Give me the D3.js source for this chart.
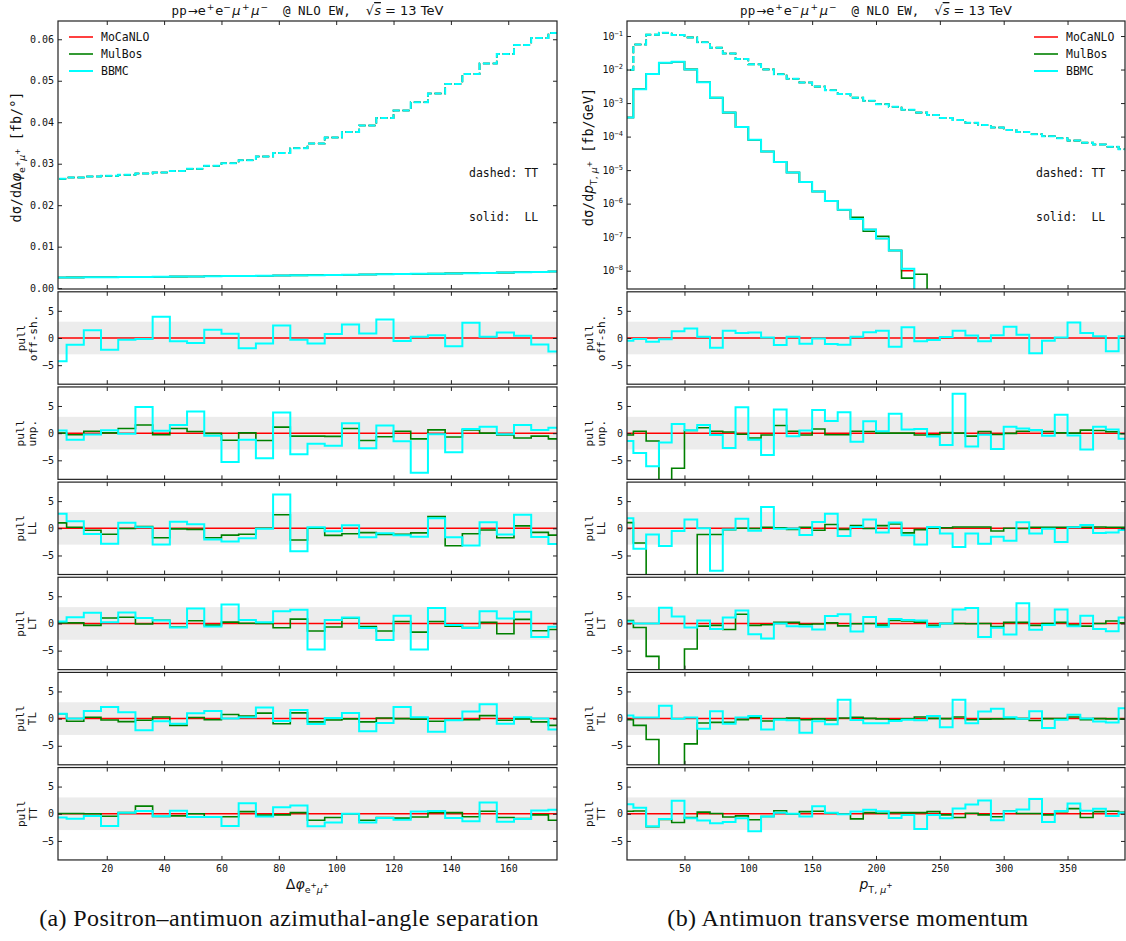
<!DOCTYPE html>
<html><head><meta charset="utf-8">
<script src="https://cdn.jsdelivr.net/npm/d3@7"></script>
<style>body{margin:0;background:#fff}</style>
</head><body>
<svg id="c" width="1126" height="941" xmlns="http://www.w3.org/2000/svg"></svg>
<script>
// ---------------- DATA ----------------
const generators = ["MoCaNLO","MulBos","BBMC"];
const phiEdges = [0,6,12,18,24,30,36,42,48,54,60,66,72,78,84,90,96,102,108,114,120,126,132,138,144,150,156,162,168,174,180];
const ptEdges = [0,10,20,30,40,50,60,70,80,90,100,110,120,130,140,150,160,170,180,190,200,210,220,230,240,250,260,270,280,290,300,310,320,330,340,350,360,370,380,390,400];
const phiTicks = [20,40,60,80,100,120,140,160];
const ptTicks = [50,100,150,200,250,300,350];
const phiMainTicks = [0,0.01,0.02,0.03,0.04,0.05,0.06];
const ptMainExps = [-1,-2,-3,-4,-5,-6,-7,-8];
const pullTicks = [-5,0,5];
const pullNames = ["off-sh.","unp.","LL","LT","TL","TT"];

// main panel, Delta phi (fb/deg)
const phiTT = [0.02635,0.02667,0.02691,0.02707,0.02731,0.02763,0.02787,0.02827,0.02876,0.02948,0.03012,0.03084,0.03173,0.03261,0.03373,0.03486,0.03631,0.03767,0.03920,0.04104,0.04281,0.04482,0.04691,0.04924,0.05165,0.05414,0.05647,0.05863,0.06032,0.06153];
const phiLL = [0.00258,0.00260,0.00262,0.00265,0.00268,0.00271,0.00275,0.00279,0.00283,0.00287,0.00291,0.00296,0.00300,0.00305,0.00309,0.00314,0.00319,0.00324,0.00329,0.00334,0.00339,0.00345,0.00350,0.00356,0.00362,0.00368,0.00375,0.00383,0.00392,0.00402];

// main panel, pT (fb/GeV)
const ptTT = [0.0098,0.056,0.11,0.125,0.107,0.091,0.065,0.045,0.030,0.0206,0.0143,0.0101,0.0073,0.0053,0.0041,0.0031,0.0024,0.00187,0.00145,0.00117,0.00093,0.00078,0.00063,0.00052,0.00044,0.00036,0.00031,0.00026,0.00022,0.000186,0.000158,0.000137,0.000117,0.000102,0.000089,0.000076,0.000066,0.000058,0.000050,0.000042];
const ptLL_MoCaNLO = [0.00037,0.0026,0.0074,0.0159,0.017,0.0101,0.0042,0.00145,0.00052,0.000194,0.000080,0.000036,0.0000175,0.0000085,0.0000044,0.0000023,0.0000012,6.6e-7,3.5e-7,1.7e-7,9.1e-8,4.0e-8,1.0e-8,0,0,0,0,0,0,0,0,0,0,0,0,0,0,0,0,0];
const ptLL_MulBos  = [0.00037,0.0026,0.0074,0.0159,0.017,0.0101,0.0042,0.00145,0.00052,0.000194,0.000080,0.000036,0.0000175,0.0000085,0.0000044,0.0000023,0.0000012,6.6e-7,3.9e-7,1.5e-7,1.06e-7,4.0e-8,6.0e-9,7.8e-9,0,0,0,0,0,0,0,0,0,0,0,0,0,0,0,0];
const ptLL_BBMC    = [0.00037,0.0026,0.0074,0.0159,0.017,0.0101,0.0042,0.00145,0.00052,0.000194,0.000080,0.000036,0.0000175,0.0000085,0.0000044,0.0000023,0.0000012,6.6e-7,3.5e-7,1.7e-7,9.1e-8,4.0e-8,1.15e-8,0,0,0,0,0,0,0,0,0,0,0,0,0,0,0,0,0];

// pulls, Delta phi
const pPhiOff_BBMC = [-4.26,-1.23,1.42,-2.16,-0.3,-0.2,3.9,-0.6,-0.9,1.5,0.8,-1.9,-1.0,2.3,-0.3,-1.0,0.75,2.5,0.85,3.4,-0.55,0.25,0.5,-1.5,2.8,0.25,1.0,0.4,-1.2,-2.5];
const pPhiUnp_MulBos = [0,-0.3,0.35,0.05,0.85,1.5,-0.3,0.85,0.3,-0.05,-1.3,0.05,-1.35,1.1,-0.55,-0.55,-0.6,0.85,-1.35,-0.65,0.35,-1.05,0.6,-0.7,0.6,0,-0.35,-0.9,-0.55,-1.05];
const pPhiUnp_BBMC = [0.5,-1.2,-0.25,0.55,-0.1,4.8,0.45,1.5,4.0,-0.5,-5.3,-1.2,-4.6,3.8,-3.9,-1.95,-2.3,1.8,-2.8,1.4,-1.5,-7.3,-0.2,-3.5,0.75,1.2,-0.2,1.5,0.6,1.0];
const pPhiLL_MulBos = [1.0,0.2,-0.35,-1.1,-0.05,0.3,-1.75,-0.1,-0.2,-1.75,-1.25,-1.1,0,2.5,-2.15,0,-1.3,-1.0,-0.8,-1.15,-1.1,-0.85,2.15,-3.2,-1.0,-0.3,-1.75,0.45,-0.75,-1.25];
const pPhiLL_BBMC = [2.7,1.3,-1.05,-2.85,1.0,0.2,-3.0,1.2,0.75,-2.05,-2.45,-1.85,-0.1,6.2,-4.2,0.2,-0.55,0.55,-1.65,-0.9,-1.3,-1.55,1.85,-1.65,-3.15,1.1,-1.15,2.5,-1.6,-2.9];
const pPhiLT_MulBos = [0.1,0.1,-0.35,1.0,1.15,-0.1,0.6,-0.65,0.5,-0.3,0.25,0.05,0,-0.8,0.8,-1.4,-0.65,1.0,-0.55,-1.4,0.35,-1.6,0.35,-0.5,-0.75,0.2,-1.9,0.75,-1.35,-1.1];
const pPhiLT_BBMC = [0.35,1.15,1.95,0.2,2.0,1.0,0.55,-0.75,2.75,-0.55,3.5,0.65,0.2,2.25,2.5,-4.8,0.65,1.1,-0.85,-3.05,1.4,-4.8,2.85,-0.3,-0.85,2.25,0.9,2.15,-2.5,-0.6];
const pPhiTL_MulBos = [0.9,-0.5,0.25,-0.25,-0.55,-0.3,0.3,-1.25,0.2,-0.2,0.75,0.45,1.0,-0.95,1.05,-0.6,-0.25,-0.05,-0.6,0.1,0,-0.1,-0.5,-0.3,-0.2,0.55,-0.3,-0.05,-0.6,-1.25];
const pPhiTL_BBMC = [0.9,0,1.4,2.15,1.15,-2.15,-0.5,-0.95,1.0,1.4,0,0.25,2.05,-0.45,1.6,-1.0,0.1,1.05,-2.35,-0.8,2.15,0.25,-2.4,-0.3,1.3,2.65,-0.95,0.25,0,-2.0];
const pPhiTT_MulBos = [0.05,0.05,0,-0.45,0.2,1.4,-0.5,-0.4,0,-0.6,-0.55,0.4,-0.25,-0.2,0.2,-1.2,-0.7,0,-1.2,-0.7,-0.8,-0.6,0.25,0.2,-0.55,0.45,-0.7,-0.9,-0.2,-1.2];
const pPhiTT_BBMC = [-0.7,-0.9,-0.4,-2.25,0.2,0.5,-0.45,0.55,-0.6,-0.6,-2.25,1.95,-0.5,1.2,1.5,-2.3,-1.6,0,-1.6,-0.8,-1.1,0.4,0.5,-0.8,-1.4,2.05,-1.45,-0.95,0.6,0.75];

// pulls, pT (values below -8.5 lie off the panel)
const pPtOff_BBMC = [-0.5,-0.2,-0.7,-0.25,1.25,1.75,0.25,-1.8,1.35,0.9,1.0,0.1,-1.3,0.25,-1.05,-0.1,-1.1,-1.25,0.25,1.05,1.35,-1.6,2.0,-0.6,-0.35,0.2,1.35,0.45,-0.6,0.5,2.05,0.6,-2.8,-0.5,0.1,2.85,0.9,0.3,-2.45,0.3];
const pPtUnp_MulBos = [-0.35,0.35,-1.45,-12,-6.45,0.5,1.0,0.35,0.2,-0.2,-0.9,-0.35,1.4,0.35,-0.35,0.75,-0.3,-0.3,0.35,0.3,0,0,0,-0.35,-0.3,0.1,0,-0.55,0.3,-0.25,-0.05,0.35,0.5,0.3,0.05,0,0.55,0.5,0.25,-0.1];
const pPtUnp_BBMC = [-1.45,-3.65,-6.1,-1.7,1.7,0.55,1.5,-0.35,-2.75,4.75,-1.2,-4.0,4.35,-0.55,0.5,4.25,2.25,3.85,-1.6,2.2,0.35,3.55,0.65,0.75,-0.6,-2.2,7.25,-2.45,-0.3,-2.9,1.2,0.85,0.6,-0.5,3.4,-0.45,-3.0,1.2,0.65,-1.05];
const pPtLL_MulBos = [1.05,-2.7,-12,-12,-12,-12,-1.15,-1.15,-0.25,0,-0.05,0.2,0.1,-0.2,0.2,-0.35,0.7,-0.2,0.5,-0.05,0.5,0.8,-0.85,-0.25,0.05,0.1,0.25,0.25,0.25,-0.5,0,-0.05,0.2,0.2,0.2,0.25,0.2,0.25,0.2,0.2];
const pPtLL_BBMC = [1.85,-3.75,-1.15,-3.25,-0.5,1.6,0,-7.8,-0.2,1.75,-0.45,3.9,-0.1,-0.05,-1.25,1.15,2.7,-1.4,0.25,1.6,-0.75,1.05,-1.3,-3.0,0.25,-0.95,-3.45,-0.95,-2.85,-1.55,-2.3,1.1,-0.95,-0.1,-2.5,0.2,0.6,-0.85,-0.75,-0.3];
const pPtLT_MulBos = [0.55,-0.75,-6.05,-12,-12,-4.7,-0.5,-0.35,-1.1,1.7,-0.35,-0.25,0.2,0.2,-0.2,-0.1,0.1,-0.45,-0.05,0,-0.3,0.55,0.45,0.25,-0.35,0,0,-0.05,0,-0.55,0.2,0.2,-0.35,0,0.2,-0.3,-0.5,0,0.45,0.1];
const pPtLT_BBMC = [0.35,0,0,2.9,1.3,-0.75,0.55,-1.0,1.1,2.4,-2.0,-2.75,0,-0.5,-0.55,-1.1,1.35,1.7,-1.5,1.2,-0.6,0.8,0.65,0.55,-0.6,0,2.55,2.85,-2.5,-0.8,-2.05,3.7,-1.15,-0.3,2.55,-0.5,1.4,-1.0,-1.45,1.1];
const pPtTL_MulBos = [-0.2,-1.25,-3.85,-12,-12,-4.65,-0.8,-0.7,-0.7,-0.2,0.2,-0.45,-0.05,0.1,-0.2,-0.05,-0.25,0.1,0.25,0.05,-0.05,-0.2,-0.05,0.3,0.05,0,0.3,-0.2,-0.1,-0.05,0,0,-0.35,0,0,0.3,-0.2,0,-0.05,-0.1];
const pPtTL_BBMC = [0.55,0.2,0.2,2.35,-0.05,0.2,-1.85,1.35,-0.95,0.2,0.5,-2.0,-0.2,-0.3,-2.6,-0.5,-1.05,3.45,-0.25,-0.85,-0.85,-0.45,-0.2,-0.3,0.5,-1.6,3.45,-0.85,1.3,1.8,0.25,-0.05,1.35,-1.75,-0.2,0.7,0,-0.55,-0.7,1.9];
const pPtTT_MulBos = [0.45,0.5,-2.4,-1.05,-1.6,-0.7,0.3,0.05,-0.6,-0.4,-1.1,-0.5,0.55,-0.05,0.4,0.45,0.1,-0.1,-0.95,0.2,0.1,0.2,0.2,0.2,0.4,-0.2,-0.7,0.1,-0.2,-0.55,0.5,0.05,0.05,-0.2,0.4,0.95,-0.7,0.4,0.45,0.25];
const pPtTT_BBMC = [1.75,1.1,-2.3,-0.95,2.4,-0.85,-1.25,-1.75,-1.5,-0.85,-3.2,-0.5,0.2,0,-0.5,1.4,0.2,-0.1,0.4,0.75,0.45,-0.8,-0.25,-2.8,-0.25,-0.85,0.95,1.7,2.45,-1.2,0.45,0.8,2.7,-1.5,0.5,1.9,0.55,0.9,-0.4,0.2];

// ---------------- STYLE / LAYOUT ----------------
const MONO = "'DejaVu Sans Mono', monospace";
const SANS = "'DejaVu Sans', sans-serif";
const SERIF = "'Liberation Serif', 'DejaVu Serif', serif";
const COL = {MoCaNLO:"#ff0000", MulBos:"#008000", BBMC:"#00ffff"};
const LW  = {MoCaNLO:1.5, MulBos:1.6, BBMC:2.0};
const mainTop = 21, mainBot = 289;
const pullTop0 = 291.8, pullStep = 95.15, pullH = 92.4;

const svg = d3.select("#c");
svg.append("rect").attr("width",1126).attr("height",941).attr("fill","#fff");

function rich(g, x, y, parts, o = {}) {
  const t = g.append("text").attr("x", x).attr("y", y)
    .attr("font-family", o.ff || MONO).attr("font-size", o.fs || 12)
    .attr("text-anchor", o.anchor || "start").attr("fill", "#111")
    .style("white-space", "pre");
  if (o.rot) t.attr("transform", `rotate(${o.rot},${x},${y})`);
  let cur = 0;
  parts.forEach(p => {
    const l = p.l || 0;
    const s = t.append("tspan").text(p.t);
    if (l !== cur) s.attr("dy", l - cur);
    cur = l;
    if (p.fs) s.attr("font-size", p.fs);
    if (p.ff) s.attr("font-family", p.ff);
    if (p.it) s.attr("font-style", "italic");
    if (p.ov) s.attr("text-decoration", "overline");
    if (p.dx) s.attr("dx", p.dx);
  });
  return t;
}

function stepPts(edges, vals) {
  const pts = vals.map((v, i) => [edges[i], v]);
  pts.push([edges[vals.length], vals[vals.length - 1]]);
  return pts;
}

let clipId = 0;
function panel(x, y, top, h, xticks, yticks, yfmt, showX, xfmt) {
  const g = svg.append("g");
  g.append("rect").attr("x", x.range()[0]).attr("y", top).attr("width", x.range()[1]-x.range()[0]).attr("height", h).attr("fill", "#fff");
  const id = "clip" + (clipId++);
  g.append("clipPath").attr("id", id).append("rect")
    .attr("x", x.range()[0]).attr("y", top).attr("width", x.range()[1]-x.range()[0]).attr("height", h);
  const plot = g.append("g").attr("clip-path", `url(#${id})`);
  const ax = g.append("g");
  const x0 = x.range()[0], x1 = x.range()[1], bot = top + h;
  const styleAxis = s => { s.select(".domain").remove(); s.selectAll("line").attr("stroke","#222").attr("stroke-width",1); s.selectAll("text").attr("font-family", MONO).attr("font-size", 10).attr("fill","#111"); };
  const al = d3.axisLeft(y).tickValues(yticks).tickSize(-4).tickPadding(4).tickFormat(yfmt);
  ax.append("g").attr("transform", `translate(${x0},0)`).call(al).call(styleAxis);
  ax.append("g").attr("transform", `translate(${x1},0)`).call(d3.axisRight(y).tickValues(yticks).tickSize(-4).tickFormat("")).call(styleAxis);
  ax.append("g").attr("transform", `translate(0,${top})`).call(d3.axisTop(x).tickValues(xticks).tickSize(-4).tickFormat("")).call(styleAxis);
  ax.append("g").attr("transform", `translate(0,${bot})`).call(d3.axisBottom(x).tickValues(xticks).tickSize(-4).tickPadding(5).tickFormat(showX ? xfmt : "")).call(styleAxis);
  g.append("rect").attr("x", x0).attr("y", top).attr("width", x1 - x0).attr("height", h)
    .attr("fill", "none").attr("stroke", "#222").attr("stroke-width", 1.2);
  return {g, plot, ax};
}

function drawStep(plot, x, y, edges, vals, gen, dash, floor) {
  const line = d3.line().x(d => x(d[0])).y(d => y(floor ? Math.max(d[1], floor) : d[1])).curve(d3.curveStepAfter);
  plot.append("path").datum(stepPts(edges, vals)).attr("d", line)
    .attr("fill", "none").attr("stroke", COL[gen]).attr("stroke-width", LW[gen])
    .attr("stroke-dasharray", dash ? "7,2.8" : null).attr("stroke-linejoin","miter");
}

const titleParts = [
  {t:"pp", fs:12.5}, {t:"→", ff:SANS, fs:12, dx:1}, {t:"e", ff:SANS, fs:13}, {t:"+", ff:SANS, fs:9, l:-5, dx:1},
  {t:"e", ff:SANS, fs:13, l:0, dx:1}, {t:"−", ff:SANS, fs:9, l:-5},
  {t:"μ", ff:SANS, fs:13, it:true, l:0, dx:1.5}, {t:"+", ff:SANS, fs:9, l:-5, dx:1.5}, {t:"μ", ff:SANS, fs:13, it:true, l:0, dx:1.5}, {t:"−", ff:SANS, fs:9, l:-5, dx:1},
  {t:"  @ NLO EW,  ", l:0, fs:12.5}, {t:"√", ff:SANS, fs:13}, {t:"s", ff:SANS, fs:13, it:true, ov:true}, {t:" = 13 TeV", ff:SANS, fs:13}
];

const fmtPull = d => d < 0 ? "−" + Math.abs(d) : String(d);

const charts = [
  {
    x0: 58, x1: 557, dom: [3, 177], edges: phiEdges, xticks: phiTicks, xfmt: d => String(d),
    mainY: d3.scaleLinear().domain([-0.0002, 0.0644]).range([mainBot, mainTop]),
    mainTicks: phiMainTicks, mainFmt: d3.format(".2f"),
    main: {TT: {MoCaNLO: phiTT, MulBos: phiTT, BBMC: phiTT}, LL: {MoCaNLO: phiLL, MulBos: phiLL, BBMC: phiLL}},
    pulls: [
      {BBMC: pPhiOff_BBMC},
      {MulBos: pPhiUnp_MulBos, BBMC: pPhiUnp_BBMC},
      {MulBos: pPhiLL_MulBos, BBMC: pPhiLL_BBMC},
      {MulBos: pPhiLT_MulBos, BBMC: pPhiLT_BBMC},
      {MulBos: pPhiTL_MulBos, BBMC: pPhiTL_BBMC},
      {MulBos: pPhiTT_MulBos, BBMC: pPhiTT_BBMC}
    ],
    legendX: 69, annX: 469, ylabX: 21, pullLabX: [24.5, 36.5],
    ylab: [{t:"dσ/dΔ"}, {t:"φ", ff:SANS, it:true}, {t:"e", ff:SANS, fs:9.5, l:4}, {t:"+", ff:SANS, fs:7.5, l:-1}, {t:"μ", ff:SANS, fs:9.5, it:true, l:4}, {t:"+", ff:SANS, fs:7.5, l:-1}, {t:" [fb/°]", l:0}],
    xlab: [{t:"Δ", ff:SANS}, {t:"φ", ff:SANS, it:true}, {t:"e", fs:9.5, l:4}, {t:"+", fs:7.5, l:-1}, {t:"μ", fs:9.5, it:true, l:4}, {t:"+", fs:7.5, l:-1}],
    caption: "(a) Positron–antimuon azimuthal-angle separation", capX: 289
  },
  {
    x0: 627, x1: 1125, dom: [5, 395], edges: ptEdges, xticks: ptTicks, xfmt: d => String(d),
    mainY: d3.scaleLog().domain([Math.pow(10, -8.546), Math.pow(10, -0.552)]).range([mainBot, mainTop]),
    mainTicks: ptMainExps.map(e => Math.pow(10, e)), mainFmt: () => "", log: true,
    main: {TT: {MoCaNLO: ptTT, MulBos: ptTT, BBMC: ptTT}, LL: {MoCaNLO: ptLL_MoCaNLO, MulBos: ptLL_MulBos, BBMC: ptLL_BBMC}},
    pulls: [
      {BBMC: pPtOff_BBMC},
      {MulBos: pPtUnp_MulBos, BBMC: pPtUnp_BBMC},
      {MulBos: pPtLL_MulBos, BBMC: pPtLL_BBMC},
      {MulBos: pPtLT_MulBos, BBMC: pPtLT_BBMC},
      {MulBos: pPtTL_MulBos, BBMC: pPtTL_BBMC},
      {MulBos: pPtTT_MulBos, BBMC: pPtTT_BBMC}
    ],
    legendX: 1034, annX: 1036, ylabX: 593, pullLabX: [593, 605],
    ylab: [{t:"dσ/d"}, {t:"p", ff:SANS, it:true}, {t:"T, ", ff:SANS, fs:9.5, l:4}, {t:"μ", ff:SANS, fs:9.5, it:true, l:4}, {t:"+", ff:SANS, fs:7.5, l:-1}, {t:" [fb/GeV]", l:0}],
    xlab: [{t:"p", it:true}, {t:"T, ", fs:9.5, l:4}, {t:"μ", fs:9.5, it:true, l:4}, {t:"+", fs:7.5, l:-1}],
    caption: "(b) Antimuon transverse momentum", capX: 848
  }
];

charts.forEach(c => {
  const x = d3.scaleLinear().domain(c.dom).range([c.x0, c.x1]);
  const xc = (c.x0 + c.x1) / 2;
  // title
  rich(svg, xc, 15, titleParts, {ff: MONO, fs: 12.5, anchor: "middle"});
  // main panel
  const y = c.mainY;
  const P = panel(x, y, mainTop, mainBot - mainTop, c.xticks, c.mainTicks, c.mainFmt, false);
  if (c.log) {
    P.ax.select("g").selectAll(".tick text").each(function(d) {
      const t = d3.select(this).text("");
      t.append("tspan").text("10");
      t.append("tspan").text("−" + Math.abs(Math.round(Math.log10(d)))).attr("font-size", 7).attr("dy", -4);
    });
  }
  ["TT", "LL"].forEach(k => {
    generators.forEach(gname => drawStep(P.plot, x, y, c.edges, c.main[k][gname], gname, k === "TT", c.log ? 1e-12 : null));
  });
  // legend
  generators.forEach((gname, i) => {
    const ly = 37 + i * 17;
    svg.append("line").attr("x1", c.legendX).attr("x2", c.legendX + 24).attr("y1", ly).attr("y2", ly)
      .attr("stroke", COL[gname]).attr("stroke-width", LW[gname]);
    svg.append("text").attr("x", c.legendX + 32).attr("y", ly + 4).text(gname)
      .attr("font-family", MONO).attr("font-size", 11.5).attr("fill", "#111");
  });
  svg.append("text").attr("x", c.annX).attr("y", 177).text("dashed: TT").style("white-space","pre")
    .attr("font-family", MONO).attr("font-size", 11.5).attr("fill", "#111");
  svg.append("text").attr("x", c.annX).attr("y", 221).text("solid:  LL").style("white-space","pre")
    .attr("font-family", MONO).attr("font-size", 11.5).attr("fill", "#111");
  // y label
  rich(svg, c.ylabX, (mainTop + mainBot) / 2 + 2, c.ylab, {ff: MONO, fs: 13.5, anchor: "middle", rot: -90});

  // pull panels
  c.pulls.forEach((pd, i) => {
    const top = pullTop0 + i * pullStep;
    const py = d3.scaleLinear().domain([-8.5, 8.5]).range([top + pullH, top]);
    const last = i === c.pulls.length - 1;
    const Q = panel(x, py, top, pullH, c.xticks, pullTicks, fmtPull, last, c.xfmt);
    Q.plot.insert("rect", ":first-child").attr("x", c.x0).attr("width", c.x1 - c.x0)
      .attr("y", py(3)).attr("height", py(-3) - py(3)).attr("fill", "#ececec");
    Q.plot.append("line").attr("x1", c.x0).attr("x2", c.x1).attr("y1", py(0)).attr("y2", py(0))
      .attr("stroke", COL.MoCaNLO).attr("stroke-width", LW.MoCaNLO);
    ["MulBos", "BBMC"].forEach(gname => {
      if (pd[gname]) drawStep(Q.plot, x, py, c.edges, pd[gname], gname, false, null);
    });
    const cy = top + pullH / 2;
    svg.append("text").attr("x", c.pullLabX[0]).attr("y", cy).attr("transform", `rotate(-90,${c.pullLabX[0]},${cy})`)
      .attr("text-anchor", "middle").attr("font-family", MONO).attr("font-size", 11).attr("fill", "#111").text("pull");
    svg.append("text").attr("x", c.pullLabX[1]).attr("y", cy).attr("transform", `rotate(-90,${c.pullLabX[1]},${cy})`)
      .attr("text-anchor", "middle").attr("font-family", MONO).attr("font-size", 11).attr("fill", "#111").text(pullNames[i]);
  });
  // x label
  rich(svg, xc, 889, c.xlab, {ff: SANS, fs: 14, anchor: "middle"});
  // caption
  svg.append("text").attr("x", c.capX).attr("y", 926).attr("text-anchor", "middle")
    .attr("font-family", SERIF).attr("font-size", 24).attr("letter-spacing", 0.4).attr("fill", "#111").text(c.caption);
});
</script>
</body></html>
